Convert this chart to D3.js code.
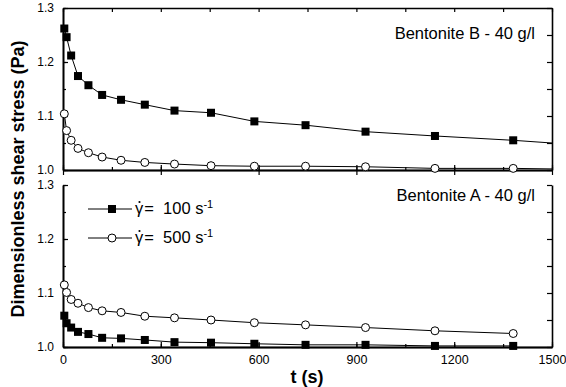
<!DOCTYPE html>
<meta charset="utf-8">
<style>
  body { margin: 0; background: #fff; }
  text { font-family: Arial, "Liberation Sans", sans-serif; fill: #000; }
</style>
<body>
<svg id="chart" width="566" height="387"></svg>
<script src="https://d3js.org/d3.v7.min.js"></script>
<script>
  // time points (s), same for every series
  var times = [4, 11, 25, 46, 78, 120, 178, 251, 342, 454, 587, 744, 928, 1141, 1381];

  // Bentonite B - 40 g/l
  var b100 = [1.262, 1.246, 1.212, 1.174, 1.157, 1.139, 1.130, 1.121, 1.110, 1.106, 1.090, 1.083, 1.071, 1.063, 1.055];
  var b500 = [1.104, 1.073, 1.055, 1.040, 1.032, 1.024, 1.018, 1.014, 1.011, 1.008, 1.007, 1.007, 1.006, 1.003, 1.003];
  // the B curves run on to the end of the axis
  var bTailT = 1500;
  var bTail100 = 1.050;
  var bTail500 = 1.002;

  // Bentonite A - 40 g/l
  var a100 = [1.058, 1.044, 1.036, 1.028, 1.024, 1.017, 1.016, 1.013, 1.009, 1.008, 1.006, 1.004, 1.004, 1.002, 1.002];
  var a500 = [1.115, 1.101, 1.088, 1.081, 1.073, 1.067, 1.064, 1.057, 1.054, 1.050, 1.045, 1.041, 1.036, 1.030, 1.025];

  var xTicks = [0, 300, 600, 900, 1200, 1500];
  var xMinor = d3.range(0, 1501, 150);
  var yTicks = [1.0, 1.1, 1.2, 1.3];
  var yMinor = [1.0, 1.05, 1.1, 1.15, 1.2, 1.25, 1.3];

  var svg = d3.select("#chart");

  var x = d3.scaleLinear().domain([0, 1500]).range([63, 552]);

  var panels = [
    { top: 8, bottom: 170, name: "Bentonite B - 40 g/l", nameY: 39, s100: b100, s500: b500, tail: true, frameTop: true },
    { top: 185, bottom: 347, name: "Bentonite A - 40 g/l", nameY: 201, s100: a100, s500: a500, tail: false, frameTop: false }
  ];

  var line = d3.line();

  panels.forEach(function (p, i) {
    var y = d3.scaleLinear().domain([1.0, 1.3]).range([p.bottom, p.top]);
    var g = svg.append("g");

    // left axis
    g.append("g")
      .attr("transform", "translate(" + x(0) + ",0)")
      .call(d3.axisLeft(y).tickValues(yMinor).tickSize(-3).tickSizeOuter(0).tickFormat(""));
    g.append("g")
      .attr("class", "ylab")
      .attr("transform", "translate(" + x(0) + ",0)")
      .call(d3.axisLeft(y).tickValues(yTicks).tickSize(-5).tickSizeOuter(0).tickPadding(9)
        .tickFormat(d3.format(".1f")));

    // right axis
    g.append("g")
      .attr("transform", "translate(" + x(1500) + ",0)")
      .call(d3.axisRight(y).tickValues(yMinor).tickSize(-5).tickSizeOuter(0).tickFormat(""));

    // bottom axis: major ticks cross the line, minor ones inside
    g.append("g")
      .attr("transform", "translate(0," + p.bottom + ")")
      .call(d3.axisBottom(x).tickValues(xMinor).tickSize(-3).tickSizeOuter(0).tickFormat(""));
    g.append("g")
      .attr("transform", "translate(0," + p.bottom + ")")
      .call(d3.axisBottom(x).tickValues(xTicks).tickSize(-5).tickSizeOuter(0).tickFormat(""));
    if (i == 0) {
      g.append("g")
        .attr("transform", "translate(0," + p.bottom + ")")
        .call(d3.axisBottom(x).tickValues(xTicks).tickSize(5).tickSizeOuter(0).tickFormat(""));
    } else {
      g.append("g")
        .attr("class", "xlab")
        .attr("transform", "translate(0," + p.bottom + ")")
        .call(d3.axisBottom(x).tickValues(xTicks).tickSize(0).tickSizeOuter(0).tickPadding(8)
          .tickFormat(d3.format("d")));
    }

    // top frame of the upper panel
    if (p.frameTop) {
      g.append("g")
        .attr("transform", "translate(0," + p.top + ")")
        .call(d3.axisTop(x).tickValues(xMinor).tickSize(-4).tickSizeOuter(0).tickFormat(""));
    }

    // curves
    var pts100 = times.map(function (t, k) { return [x(t), y(p.s100[k])]; });
    var pts500 = times.map(function (t, k) { return [x(t), y(p.s500[k])]; });
    if (p.tail) {
      pts100.push([x(bTailT), y(bTail100)]);
      pts500.push([x(bTailT), y(bTail500)]);
    }
    g.append("path").attr("d", line(pts500))
      .attr("fill", "none").attr("stroke", "#000").attr("stroke-width", 1);
    g.append("path").attr("d", line(pts100))
      .attr("fill", "none").attr("stroke", "#000").attr("stroke-width", 1);

    g.selectAll(".sq")
      .data(times)
      .enter().append("rect")
      .attr("x", function (t) { return x(t) - 4; })
      .attr("y", function (t, k) { return y(p.s100[k]) - 4; })
      .attr("width", 8).attr("height", 8)
      .attr("fill", "#000");

    g.selectAll(".ci")
      .data(times)
      .enter().append("circle")
      .attr("cx", function (t) { return x(t); })
      .attr("cy", function (t, k) { return y(p.s500[k]); })
      .attr("r", 4)
      .attr("fill", "#fff").attr("stroke", "#000").attr("stroke-width", 1);

    // panel title
    g.append("text")
      .attr("x", 535).attr("y", p.nameY)
      .attr("text-anchor", "end")
      .style("font-size", "16.5px")
      .text(p.name);
  });

  svg.selectAll(".domain").attr("stroke", "#000").attr("stroke-width", 1.6);
  svg.selectAll(".tick line").attr("stroke", "#000").attr("stroke-width", 1.2);
  svg.selectAll(".ylab text").style("font-size", "12px").attr("font-family", null);
  svg.selectAll(".xlab text").style("font-size", "12.5px").attr("font-family", null);

  // legend
  var legend = [
    { label: "100", y: 209, type: "sq" },
    { label: "500", y: 238, type: "ci" }
  ];
  legend.forEach(function (d) {
    svg.append("line")
      .attr("x1", 88).attr("x2", 132).attr("y1", d.y).attr("y2", d.y)
      .attr("stroke", "#000").attr("stroke-width", 1);
    if (d.type == "sq") {
      svg.append("rect").attr("x", 108).attr("y", d.y - 4).attr("width", 8).attr("height", 8).attr("fill", "#000");
    } else {
      svg.append("circle").attr("cx", 112).attr("cy", d.y).attr("r", 4)
        .attr("fill", "#fff").attr("stroke", "#000");
    }
    var t = svg.append("text").attr("x", 135).attr("y", d.y + 5).style("font-size", "16.5px");
    t.append("tspan").text("γ");
    t.append("tspan").attr("dx", 1).text("=\u00a0\u00a0" + d.label + " s");
    t.append("tspan").attr("dy", -6).style("font-size", "11px").text("-1");
    // dot over the gamma
    svg.append("circle").attr("cx", 139.5).attr("cy", d.y - 7).attr("r", 1.1).attr("fill", "#000");
  });

  // axis titles
  svg.append("text")
    .attr("transform", "translate(24,179) rotate(-90)")
    .attr("text-anchor", "middle")
    .style("font-size", "18px").style("font-weight", "bold")
    .text("Dimensionless shear stress (Pa)");

  svg.append("text")
    .attr("x", 307).attr("y", 383)
    .attr("text-anchor", "middle")
    .style("font-size", "18px").style("font-weight", "bold")
    .text("t (s)");
</script>
</body>
